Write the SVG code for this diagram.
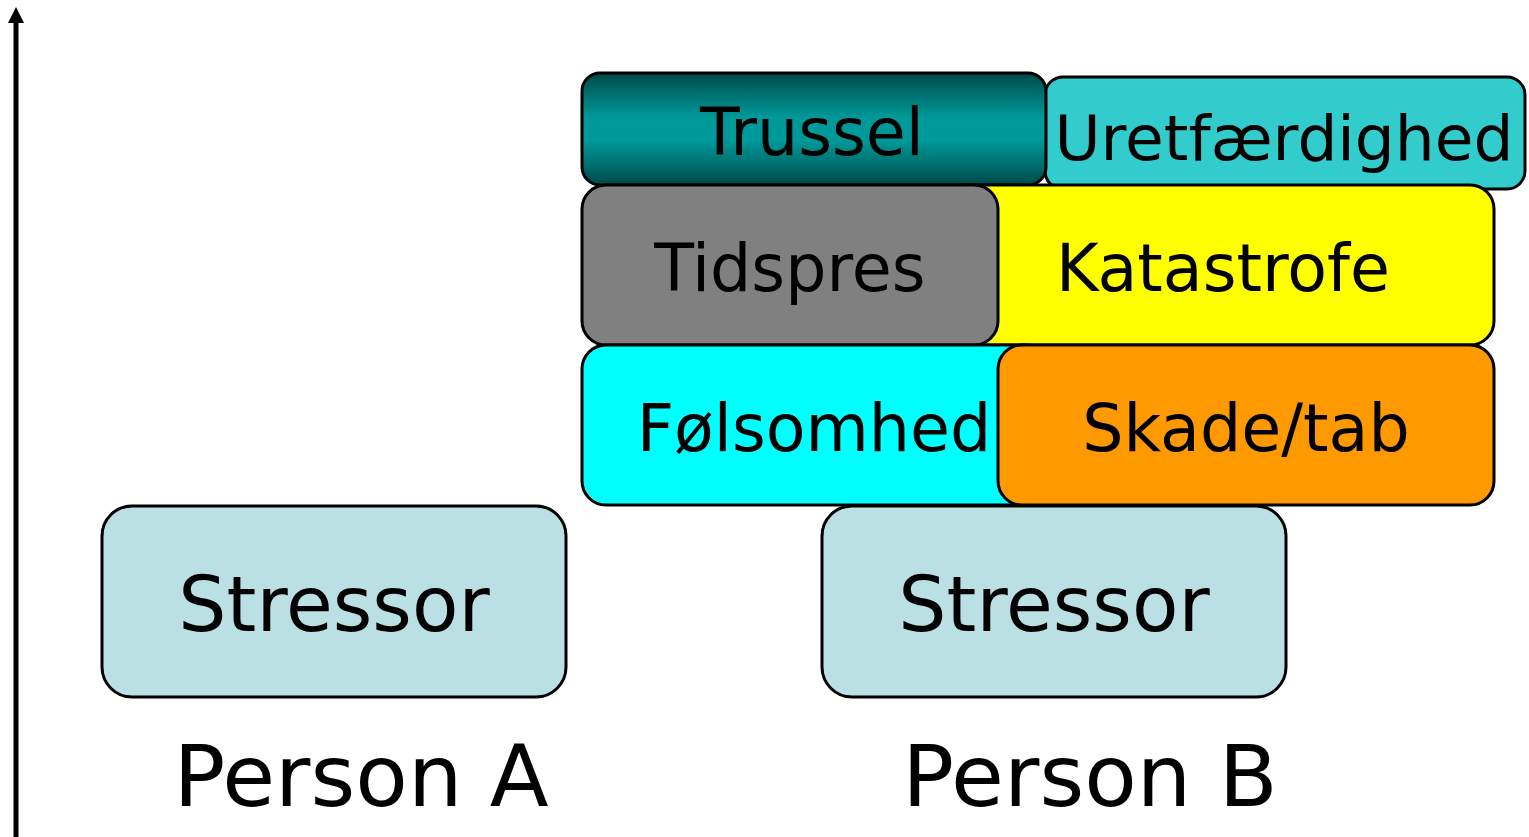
<svg xmlns="http://www.w3.org/2000/svg" width="1529" height="837" viewBox="0 0 1529 837">
<defs>
<linearGradient id="teal" x1="0" y1="0" x2="0" y2="1">
<stop offset="0" stop-color="#004a4a"/>
<stop offset="0.4" stop-color="#009999"/>
<stop offset="0.6" stop-color="#009999"/>
<stop offset="1" stop-color="#004a4a"/>
</linearGradient>
<marker id="ah" markerWidth="16" markerHeight="16" viewBox="0 0 16 16" refX="2" refY="8" orient="auto" markerUnits="userSpaceOnUse">
<path d="M0 0 L16 8 L0 16 Z" fill="#000"/>
</marker>
</defs>
<style>
.box{stroke:#000;stroke-width:3}
.t{font-family:"DejaVu Sans",Verdana,sans-serif;fill:#000;text-anchor:middle}
.m{font-size:65px}
.s{font-size:76px}
.p{font-size:86px}
</style>
<rect width="1529" height="837" fill="#fff"/>
<g id="connectors">
<path d="M16 837 V21" stroke="#000" stroke-width="5" fill="none" marker-end="url(#ah)"/>
</g>
<g id="uretfaerdighed">
<rect class="box" x="1045" y="77" width="480" height="112" rx="18" fill="#33CCCC"/>
<text class="t" font-size="63" x="1284" y="160">Uretfærdighed</text>
</g>
<g id="trussel">
<rect class="box" x="582" y="73" width="464" height="112" rx="18" fill="url(#teal)"/>
<text class="t m" x="812" y="155">Trussel</text>
</g>
<g id="katastrofe">
<rect class="box" x="940" y="185" width="554" height="160" rx="24" fill="#FFFF00"/>
<text class="t m" x="1223" y="291">Katastrofe</text>
</g>
<g id="tidspres">
<rect class="box" x="582" y="185" width="416" height="160" rx="24" fill="#808080"/>
<text class="t m" x="790" y="291">Tidspres</text>
</g>
<g id="folsomhed">
<rect class="box" x="582" y="345" width="470" height="160" rx="24" fill="#00FFFF"/>
<text class="t m" x="814" y="451">Følsomhed</text>
</g>
<g id="skade">
<rect class="box" x="998" y="345" width="496" height="160" rx="24" fill="#FF9900"/>
<text class="t m" x="1246" y="451">Skade/tab</text>
</g>
<g id="stressorA">
<rect class="box" x="102" y="506" width="464" height="191" rx="30" fill="#BBE0E3"/>
<text class="t s" x="334" y="631">Stressor</text>
</g>
<g id="stressorB">
<rect class="box" x="822" y="506" width="464" height="191" rx="30" fill="#BBE0E3"/>
<text class="t s" x="1054" y="631">Stressor</text>
</g>
<g id="personA">
<text class="t p" x="361" y="806">Person A</text>
</g>
<g id="personB">
<text class="t p" x="1090" y="806">Person B</text>
</g>
</svg>
